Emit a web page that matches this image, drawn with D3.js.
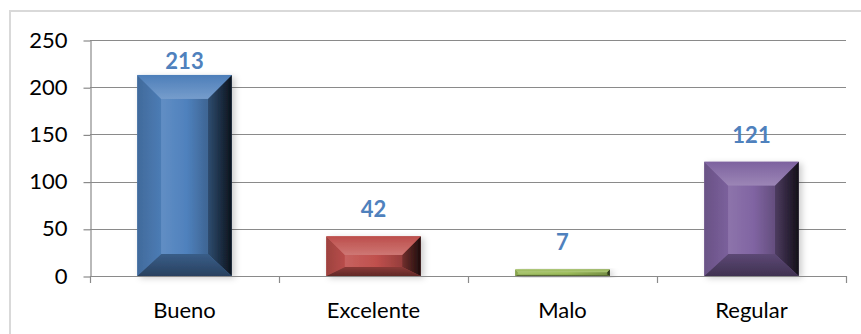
<!DOCTYPE html>
<html>
<head>
<meta charset="utf-8">
<script src="https://cdn.jsdelivr.net/npm/d3@7"></script>
<style>
  html, body { margin: 0; padding: 0; background: #fff; }
  svg { display: block; }
  text { font-family: Lato, "Open Sans", sans-serif; }
</style>
</head>
<body>
<svg id="chart" width="861" height="334"></svg>
<script>
// Chart data
const categories = ["Bueno", "Excelente", "Malo", "Regular"];
const values = [213, 42, 7, 121];
const barColors = ["#4F81BD", "#C0504D", "#9BBB59", "#8064A2"];
const yTicks = [0, 50, 100, 150, 200, 250];

const svg = d3.select("#chart");
const W = 861, H = 334;
const plot = { left: 90, right: 846, top: 40, bottom: 276 };

// Outer chart frame
svg.append("rect")
  .attr("x", 10).attr("y", 11)
  .attr("width", W + 10).attr("height", H + 10)
  .attr("fill", "#fff")
  .attr("stroke", "#d9d9d9").attr("stroke-width", 2);

const y = d3.scaleLinear().domain([0, 250]).range([plot.bottom, plot.top]);
const xCat = d3.scaleBand().domain(categories).range([plot.left, plot.right]).padding(0);
const xBar = d3.scaleBand().domain(categories).range([plot.left, plot.right])
  .paddingInner(0.5).paddingOuter(0.25);

const defs = svg.append("defs");
const shadow = defs.append("filter").attr("id", "shadow")
  .attr("x", "-20%").attr("y", "-20%").attr("width", "150%").attr("height", "150%");
shadow.append("feDropShadow")
  .attr("dx", 3).attr("dy", 2).attr("stdDeviation", 3)
  .attr("flood-color", "#000").attr("flood-opacity", 0.2);

// Horizontal gridlines
svg.append("g")
  .selectAll("line")
  .data(yTicks.filter(d => d > 0))
  .join("line")
  .attr("x1", plot.left).attr("x2", plot.right)
  .attr("y1", d => Math.round(y(d)) + 0.5).attr("y2", d => Math.round(y(d)) + 0.5)
  .attr("stroke", "#8a8a8a").attr("stroke-width", 1.2);

// Y axis
const yAxis = svg.append("g")
  .attr("transform", `translate(${plot.left + 0.5},0)`)
  .call(d3.axisLeft(y).tickValues(yTicks).tickSize(7).tickPadding(16).tickSizeOuter(0));
yAxis.select(".domain").attr("stroke", "#8a8a8a").attr("stroke-width", 1.2);
yAxis.selectAll(".tick line").attr("stroke", "#8a8a8a").attr("stroke-width", 1.2)
  .attr("transform", "translate(0,0.5)");
yAxis.selectAll(".tick text")
  .attr("font-family", "Lato, sans-serif")
  .attr("font-size", 22).attr("fill", "#000");

// Shading helpers for the bevelled bars
function shade(c, k) {
  const col = d3.color(c);
  return k >= 0 ? d3.interpolateRgb(col, "#fff")(k) : d3.interpolateRgb(col, "#000")(-k);
}
function addGradient(id, horizontal, stops) {
  const g = defs.append("linearGradient").attr("id", id)
    .attr("x1", 0).attr("y1", 0)
    .attr("x2", horizontal ? 1 : 0).attr("y2", horizontal ? 0 : 1);
  stops.forEach(([o, c]) => g.append("stop").attr("offset", o).attr("stop-color", c));
}

const bars = svg.append("g");
categories.forEach((cat, i) => {
  const base = barColors[i];
  const x0 = xBar(cat), x1 = x0 + xBar.bandwidth();
  const y0 = y(values[i]), y1 = y(0);
  const h = y1 - y0;
  const t = Math.min(24, h * 0.47);      // top bevel depth
  const b = Math.min(22, h * 0.23);      // bottom bevel depth
  const s = Math.min(24, t);             // side bevel width

  addGradient(`face${i}`, true, [[0, shade(base, 0.1)], [0.55, base], [1, shade(base, -0.22)]]);
  addGradient(`top${i}`, false, [[0, shade(base, -0.02)], [1, shade(base, 0.22)]]);
  addGradient(`right${i}`, true, [[0, shade(base, -0.4)], [1, shade(base, -0.85)]]);
  addGradient(`bottom${i}`, false, [[0, shade(base, -0.28)], [1, shade(base, -0.5)]]);
  addGradient(`left${i}`, true, [[0, shade(base, -0.18)], [1, shade(base, -0.04)]]);

  const g = bars.append("g").attr("filter", "url(#shadow)");
  const ix0 = x0 + s, ix1 = x1 - s, iy0 = y0 + t, iy1 = y1 - b;
  const poly = pts => pts.map(p => p.join(",")).join(" ");

  g.append("rect").attr("x", x0).attr("y", y0).attr("width", x1 - x0).attr("height", h)
    .attr("fill", `url(#face${i})`);
  g.append("polygon").attr("points", poly([[x0, y0], [ix0, iy0], [ix0, iy1], [x0, y1]]))
    .attr("fill", `url(#left${i})`);
  g.append("polygon").attr("points", poly([[x1, y0], [ix1, iy0], [ix1, iy1], [x1, y1]]))
    .attr("fill", `url(#right${i})`);
  g.append("polygon").attr("points", poly([[x0, y0], [x1, y0], [ix1, iy0], [ix0, iy0]]))
    .attr("fill", `url(#top${i})`);
  g.append("polygon").attr("points", poly([[x0, y1], [x1, y1], [ix1, iy1], [ix0, iy1]]))
    .attr("fill", `url(#bottom${i})`);
  g.append("rect").attr("x", ix0).attr("y", iy0)
    .attr("width", Math.max(0, ix1 - ix0)).attr("height", Math.max(0, iy1 - iy0))
    .attr("fill", `url(#face${i})`);
});

// X axis line and category boundary ticks
svg.append("line")
  .attr("x1", plot.left).attr("x2", plot.right)
  .attr("y1", plot.bottom + 0.5).attr("y2", plot.bottom + 0.5)
  .attr("stroke", "#8a8a8a").attr("stroke-width", 1.2);
const boundaries = categories.map(c => xCat(c)).concat([xCat(categories[categories.length - 1]) + xCat.bandwidth()]);
svg.append("g").selectAll("line").data(boundaries).join("line")
  .attr("x1", d => Math.round(d) + 0.5).attr("x2", d => Math.round(d) + 0.5)
  .attr("y1", plot.bottom).attr("y2", plot.bottom + 7)
  .attr("stroke", "#8a8a8a").attr("stroke-width", 1.2);

// Category labels
svg.append("g").selectAll("text").data(categories).join("text")
  .attr("x", d => xCat(d) + xCat.bandwidth() / 2)
  .attr("y", 318)
  .attr("text-anchor", "middle")
  .attr("font-size", 22).attr("fill", "#000")
  .text(d => d);

// Value labels above the bars, kept inside the plot's top margin
svg.append("g").selectAll("text").data(values).join("text")
  .attr("x", (d, i) => xBar(categories[i]) + xBar.bandwidth() / 2)
  .attr("y", d => Math.max(y(d) - 19, plot.top + 29))
  .attr("text-anchor", "middle")
  .attr("font-size", 22).attr("font-weight", "bold").attr("fill", "#4F81BD")
  .text(d => d);
</script>
</body>
</html>
